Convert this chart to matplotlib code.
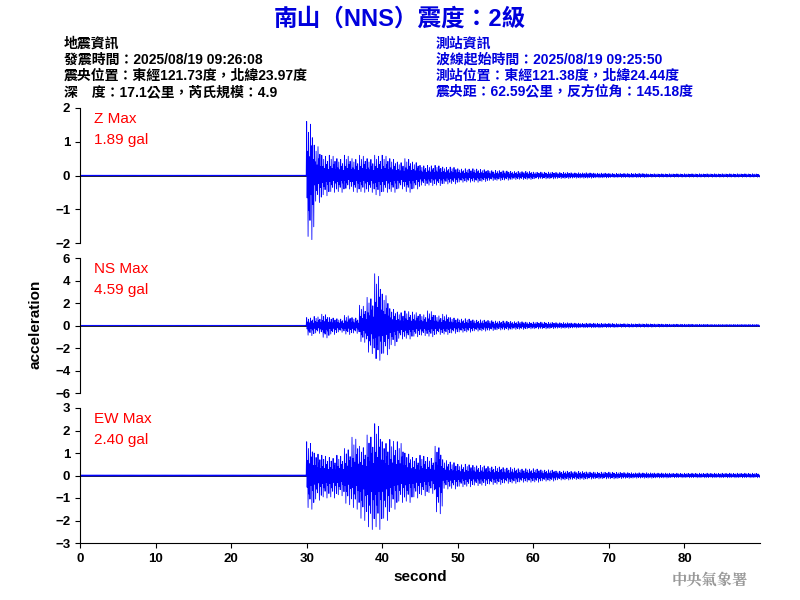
import matplotlib
matplotlib.use("Agg")
import matplotlib.pyplot as plt
import numpy as np

plt.rcParams["font.family"] = ["Liberation Sans", "Noto Sans CJK TC", "DejaVu Sans"]

# per-second envelope (upper, lower) starting at 30 s
SECONDS = list(range(30, 90))
Z_UP = [1.6, 0.9, 0.6, 0.6, 0.5, 0.6, 0.5, 0.6, 0.5, 0.6, 0.6, 0.5, 0.4, 0.5, 0.4, 0.3, 0.3, 0.3, 0.25, 0.25,
        0.2, 0.2, 0.2, 0.18, 0.15, 0.15, 0.14, 0.12, 0.12, 0.12, 0.1, 0.1, 0.1, 0.09, 0.09, 0.08, 0.08, 0.08, 0.07, 0.07,
        0.06, 0.06, 0.06, 0.06, 0.06, 0.05, 0.05, 0.05, 0.05, 0.05, 0.05, 0.05, 0.05, 0.05, 0.05, 0.05, 0.05, 0.05, 0.05, 0.05]
Z_LO = [-1.9, -0.8, -0.6, -0.5, -0.5, -0.4, -0.5, -0.5, -0.5, -0.6, -0.5, -0.5, -0.4, -0.5, -0.4, -0.3, -0.3, -0.3, -0.25, -0.25,
        -0.2, -0.2, -0.2, -0.18, -0.15, -0.15, -0.14, -0.12, -0.12, -0.12, -0.1, -0.1, -0.1, -0.09, -0.09, -0.08, -0.08, -0.08, -0.07, -0.07,
        -0.06, -0.06, -0.06, -0.06, -0.06, -0.05, -0.05, -0.05, -0.05, -0.05, -0.05, -0.05, -0.05, -0.05, -0.05, -0.05, -0.05, -0.05, -0.05, -0.05]
NS_UP = [0.7, 0.8, 1.0, 0.7, 0.6, 0.9, 0.7, 1.8, 2.5, 4.6, 2.8, 1.5, 1.2, 1.3, 1.2, 1.0, 1.3, 0.9, 1.0, 0.7,
         0.6, 0.6, 0.5, 0.5, 0.45, 0.4, 0.4, 0.35, 0.35, 0.3, 0.3, 0.3, 0.28, 0.25, 0.25, 0.22, 0.2, 0.2, 0.2, 0.18,
         0.18, 0.16, 0.16, 0.15, 0.15, 0.15, 0.14, 0.13, 0.12, 0.12, 0.12, 0.11, 0.11, 0.1, 0.1, 0.1, 0.1, 0.1, 0.1, 0.1]
NS_LO = [-0.9, -0.7, -1.1, -0.8, -0.6, -0.8, -0.7, -1.5, -2.5, -3.1, -2.6, -1.8, -1.2, -1.2, -1.0, -0.9, -1.0, -0.8, -0.8, -0.7,
         -0.6, -0.6, -0.5, -0.5, -0.45, -0.4, -0.4, -0.35, -0.35, -0.3, -0.3, -0.3, -0.28, -0.25, -0.25, -0.22, -0.2, -0.2, -0.2, -0.18,
         -0.18, -0.16, -0.16, -0.15, -0.15, -0.15, -0.14, -0.13, -0.12, -0.12, -0.12, -0.11, -0.11, -0.1, -0.1, -0.1, -0.1, -0.1, -0.1, -0.1]
EW_UP = [1.5, 1.0, 0.9, 0.8, 0.9, 1.2, 1.7, 1.3, 1.8, 2.3, 1.5, 1.6, 1.5, 1.0, 0.8, 0.9, 0.8, 1.3, 0.7, 0.6,
         0.5, 0.5, 0.45, 0.45, 0.4, 0.4, 0.35, 0.35, 0.3, 0.3, 0.3, 0.25, 0.25, 0.2, 0.2, 0.18, 0.18, 0.16, 0.15, 0.15,
         0.15, 0.14, 0.13, 0.12, 0.12, 0.12, 0.11, 0.11, 0.1, 0.1, 0.1, 0.1, 0.1, 0.1, 0.1, 0.1, 0.1, 0.1, 0.1, 0.1]
EW_LO = [-1.5, -1.1, -1.0, -1.0, -0.9, -1.3, -1.5, -2.0, -2.4, -2.4, -2.0, -1.5, -1.2, -1.2, -1.0, -0.9, -0.8, -1.7, -0.6, -0.6,
         -0.5, -0.5, -0.45, -0.45, -0.4, -0.4, -0.35, -0.35, -0.3, -0.3, -0.3, -0.25, -0.25, -0.2, -0.2, -0.18, -0.18, -0.16, -0.15, -0.15,
         -0.15, -0.14, -0.13, -0.12, -0.12, -0.12, -0.11, -0.11, -0.1, -0.1, -0.1, -0.1, -0.1, -0.1, -0.1, -0.1, -0.1, -0.1, -0.1, -0.1]
PRE_NOISE = [0.02, 0.04, 0.05]

PANELS = [("Z Max", "1.89 gal", Z_UP, Z_LO, 2, 1, PRE_NOISE[0]),
          ("NS Max", "4.59 gal", NS_UP, NS_LO, 6, 2, PRE_NOISE[1]),
          ("EW Max", "2.40 gal", EW_UP, EW_LO, 3, 1, PRE_NOISE[2])]
SWING = [1.0, 0.45, 0.8, 0.35, 0.95, 0.55, 0.7, 0.3]


def trace(up, lo, pre):
    xs, ys = [], []
    t = 0.0
    step = 1.0 / (2 * len(SWING))
    while t < 30:
        xs += [t, t + step]
        ys += [pre * 0.5, -pre * 0.5]
        t += 2 * step
    for s, u, l in zip(SECONDS, up, lo):
        for k, f in enumerate(SWING):
            xs += [s + 2 * k * step, s + (2 * k + 1) * step]
            ys += [u * f, l * SWING[(k + 3) % len(SWING)]]
    return xs, ys


fig = plt.figure(figsize=(8, 6), dpi=100)
bottoms = [0.595, 0.345, 0.095]
for i, (name, val, up, lo, lim, step, pre) in enumerate(PANELS):
    ax = fig.add_axes([0.1, bottoms[i], 0.85, 0.225])
    ax.axhline(0, color="black", lw=0.6, zorder=1)
    xs, ys = trace(up, lo, pre)
    ax.plot(xs, ys, color="blue", lw=0.6, zorder=2)
    ax.set_xlim(0, 90)
    ax.set_ylim(-lim, lim)
    ax.set_yticks(np.arange(-lim, lim + 1, step))
    for sp in ("top", "right"):
        ax.spines[sp].set_visible(False)
    ax.tick_params(labelsize=9.5, direction="out")
    for lbl in ax.get_yticklabels():
        lbl.set_fontweight("bold")
    if i < 2:
        ax.spines["bottom"].set_visible(False)
        ax.set_xticks([])
    else:
        ax.set_xticks(range(0, 90, 10))
        ax.set_xlabel("second", fontsize=11, fontweight="bold")
        for lbl in ax.get_xticklabels():
            lbl.set_fontweight("bold")
    ax.text(0.02, 0.97, name + "\n" + val, transform=ax.transAxes, color="red",
            fontsize=11, va="top", linespacing=1.6)

fig.text(0.035, 0.46, "acceleration", rotation=90, fontsize=11, fontweight="bold", va="center")
fig.text(0.5, 0.968, "南山（NNS）震度：2級", color="#0000dd", fontsize=17, fontweight="bold",
         ha="center", va="center")
left = ["地震資訊", "發震時間：2025/08/19 09:26:08", "震央位置：東經121.73度，北緯23.97度",
        "深　度：17.1公里，芮氏規模：4.9"]
right = ["測站資訊", "波線起始時間：2025/08/19 09:25:50", "測站位置：東經121.38度，北緯24.44度",
         "震央距：62.59公里，反方位角：145.18度"]
for j, (a, b) in enumerate(zip(left, right)):
    y = 0.928 - j * 0.027
    fig.text(0.08, y, a, fontsize=10, fontweight="bold", va="center", color="black")
    fig.text(0.545, y, b, fontsize=10, fontweight="bold", va="center", color="#0000dd")
fig.text(0.935, 0.032, "中央氣象署", fontsize=11, color="#999999", ha="right", va="center",
         family=["Noto Serif CJK TC", "Noto Sans CJK TC"], fontweight="bold")
fig.savefig("out.png")
